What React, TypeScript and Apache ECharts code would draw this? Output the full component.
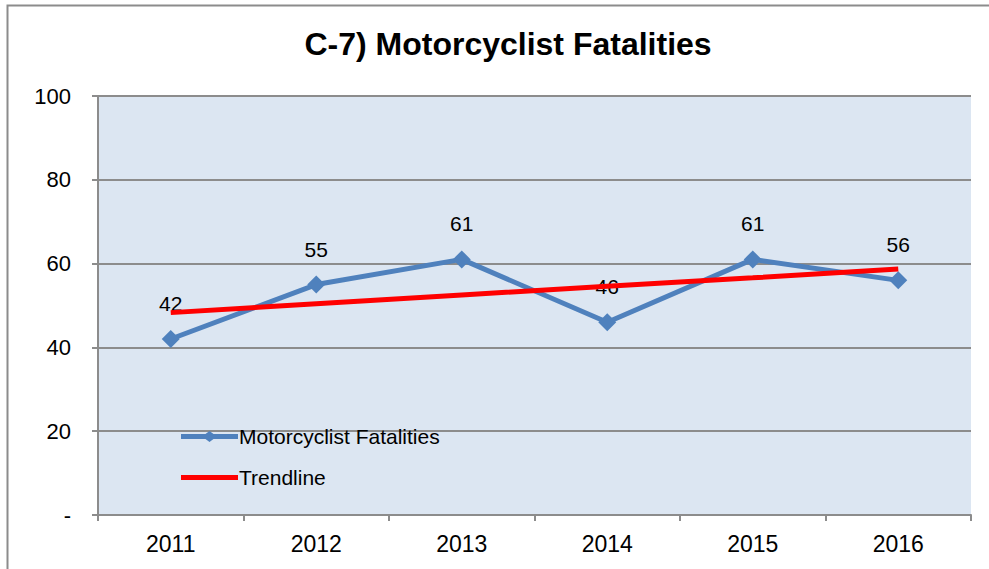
import React, { useEffect, useRef } from "react";
import * as echarts from "echarts";

const titleText = "C-7) Motorcyclist Fatalities";
const categories = ["2011", "2012", "2013", "2014", "2015", "2016"];
const fatalities = [42, 55, 61, 46, 61, 56];
const trendline = [48.3, 50.4, 52.5, 54.6, 56.6, 58.7];
const seriesNames = ["Motorcyclist Fatalities", "Trendline"];

export default function App() {
  const ref = useRef<HTMLDivElement>(null);
  useEffect(() => {
    if (!ref.current) return;
    const chart = echarts.init(ref.current, null, { renderer: "svg" });
    const font = "Liberation Sans, Arial, sans-serif";
    const legendText = { fontFamily: font, fontSize: 21, color: "#000", padding: [0, 0, 0, -4] };
    chart.setOption({
      animation: false,
      backgroundColor: "#ffffff",
      title: {
        text: titleText,
        left: 503,
        top: 23,
        textAlign: "center",
        textStyle: {
          fontFamily: font,
          fontWeight: "bold",
          fontSize: 32,
          color: "#000",
        },
      },
      graphic: [
        {
          type: "polyline",
          shape: { points: [[7.5, 600], [7.5, 5.5], [1000, 5.5]] },
          style: { stroke: "#8c8c8c", lineWidth: 2, fill: "none" },
          silent: true,
        },
      ],
      legend: [
        {
          orient: "vertical",
          left: 176,
          top: 421,
          itemWidth: 57,
          itemHeight: 11,
          textStyle: legendText,
          data: [
            {
              name: seriesNames[0],
              icon: "path://M0,3 H24.5 L28.5,0 L32.5,3 H57 V8 H32.5 L28.5,11 L24.5,8 H0 Z",
            },
          ],
        },
        {
          orient: "vertical",
          left: 176,
          top: 462,
          itemWidth: 57,
          itemHeight: 5,
          textStyle: legendText,
          data: [{ name: seriesNames[1], icon: "path://M0,0 H57 V5 H0 Z" }],
        },
      ],
      grid: { left: 98, right: 18, top: 96, bottom: 54, show: true, backgroundColor: "#DCE6F2", borderWidth: 0 },
      xAxis: {
        type: "category",
        data: categories,
        boundaryGap: true,
        axisLine: { show: true, lineStyle: { color: "#8c8c8c", width: 2 } },
        axisTick: { show: true, length: 6, alignWithLabel: false, lineStyle: { color: "#8c8c8c", width: 2 } },
        axisLabel: { fontFamily: font, fontSize: 23, color: "#000", margin: 17 },
        splitLine: { show: false },
      },
      yAxis: {
        type: "value",
        min: 0,
        max: 100,
        interval: 20,
        axisLine: { show: true, lineStyle: { color: "#8c8c8c", width: 2 } },
        axisTick: { show: true, length: 6, lineStyle: { color: "#8c8c8c", width: 2 } },
        axisLabel: {
          fontFamily: font,
          fontSize: 22,
          color: "#000",
          margin: 27,
          formatter: (v: number) => (v === 0 ? "-" : String(v)),
        },
        splitLine: { show: true, lineStyle: { color: "#8c8c8c", width: 2 } },
      },
      series: [
        {
          name: seriesNames[0],
          type: "line",
          data: fatalities,
          symbol: "diamond",
          symbolSize: 18,
          z: 2,
          lineStyle: { color: "#4F81BD", width: 5 },
          itemStyle: { color: "#4F81BD" },
          label: {
            show: true,
            position: "top",
            distance: 16,
            fontFamily: font,
            fontSize: 21,
            color: "#000",
          },
        },
        {
          name: seriesNames[1],
          type: "line",
          data: trendline,
          symbol: "none",
          z: 3,
          lineStyle: { color: "#FF0000", width: 5 },
          itemStyle: { color: "#FF0000" },
        },
      ],
    });
    return () => chart.dispose();
  }, []);
  return (
    <div
      ref={ref}
      style={{ position: "fixed", left: 0, top: 0, width: 989, height: 569 }}
    />
  );
}
